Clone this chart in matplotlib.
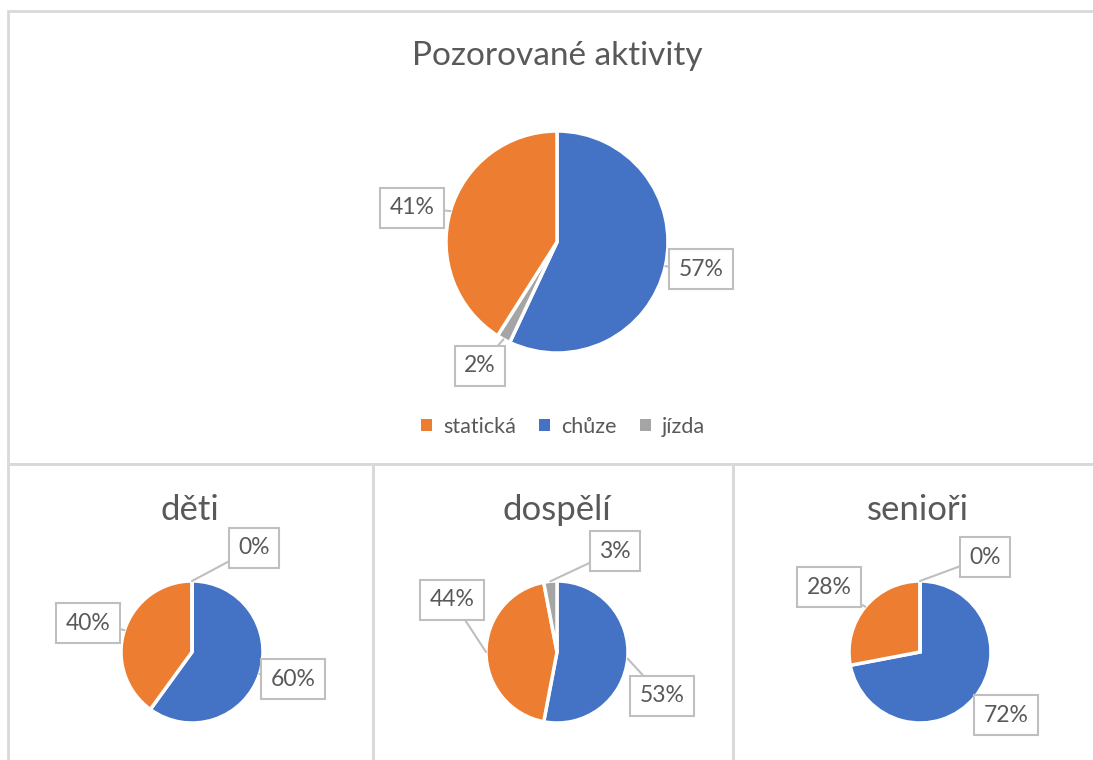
import matplotlib
matplotlib.use("Agg")
import matplotlib.pyplot as plt
import numpy as np
from matplotlib.patches import Rectangle, Patch

# legend / category order
categories = ["statická", "chůze", "jízda"]
colors = ["#ED7D31", "#4472C4", "#A5A5A5"]

# values in percent, same order as categories
chart_titles = ["Pozorované aktivity", "děti", "dospělí", "senioři"]
total_values = [41, 57, 2]
deti_values = [40, 60, 0]
dospeli_values = [44, 53, 3]
seniori_values = [28, 72, 0]
all_values = [total_values, deti_values, dospeli_values, seniori_values]

# clockwise drawing order from 12 o'clock (indices into categories)
draw_orders = [[1, 2, 0], [1, 0, 2], [1, 0, 2], [1, 0, 2]]

W, H = 1093, 760
TEXT = "#595959"
BORDER = "#D9D9D9"

plt.rcParams["font.family"] = ["Lato", "DejaVu Sans"]

fig = plt.figure(figsize=(W / 100, H / 100), dpi=100)
fig.patch.set_facecolor("white")


def px(x, y):
    """pixel (top-left origin) -> figure fraction"""
    return x / W, 1 - y / H


# chart frames
for (x0, y0, x1, y1) in [(8, 11, 1100, 464), (8, 464, 373, 770),
                         (373, 464, 733, 770), (733, 464, 1100, 770)]:
    fig.patches.append(Rectangle(px(x0, y1), (x1 - x0) / W, (y1 - y0) / H,
                                 transform=fig.transFigure, fill=False,
                                 edgecolor=BORDER, linewidth=2))

# layout: pie centre, radius, title centre, title size, label box centres (pixels)
pie_layout = [
    ((557, 242), 111, (557, 56), 24, {0: (412, 208), 1: (701, 269), 2: (480, 366)}),
    ((192, 652), 71, (190, 510), 25, {0: (88, 623), 1: (293, 679), 2: (254, 548)}),
    ((557, 652), 71, (557, 510), 25, {0: (452, 600), 1: (662, 696), 2: (615, 551)}),
    ((920, 652), 71, (918, 510), 25, {0: (829, 587), 1: (1006, 715), 2: (985, 557)}),
]

for values, order, title, (center, r, tpos, tsize, lpos) in zip(
        all_values, draw_orders, chart_titles, pie_layout):
    cx, cy = center
    ax = fig.add_axes([(cx - r) / W, 1 - (cy + r) / H, 2 * r / W, 2 * r / H])
    vals = [values[i] for i in order]
    cols = [colors[i] for i in order]
    wedges, _ = ax.pie(vals, colors=cols, startangle=90, counterclock=False,
                       radius=1, wedgeprops=dict(edgecolor="white", linewidth=2.5))
    ax.set_xlim(-1, 1)
    ax.set_ylim(-1, 1)
    ax.set_aspect("equal")
    ax.axis("off")

    for w, idx in zip(wedges, order):
        mid = np.deg2rad((w.theta1 + w.theta2) / 2)
        lx, ly = lpos[idx]
        ax.annotate(f"{values[idx]}%", xy=(np.cos(mid), np.sin(mid)),
                    xycoords="data", xytext=(lx, H - ly),
                    textcoords="figure pixels", ha="center", va="center",
                    fontsize=16.5, color=TEXT, annotation_clip=False,
                    bbox=dict(boxstyle="square,pad=0.4", fc="white",
                              ec="#BFBFBF", lw=1.5),
                    arrowprops=dict(arrowstyle="-", color="#BFBFBF", lw=1.5,
                                    shrinkA=0, shrinkB=0))

    fig.text(*px(*tpos), title, ha="center", va="center", fontsize=tsize,
             color=TEXT)

handles = [Patch(facecolor=c, edgecolor="none") for c in colors]
fig.legend(handles, categories, loc="center", bbox_to_anchor=px(563, 427),
           ncol=3, frameon=False, fontsize=15.5, labelcolor=TEXT,
           handlelength=0.5, handleheight=0.5, handletextpad=0.5,
           columnspacing=1.1)

fig.savefig("out.png", dpi=100)
